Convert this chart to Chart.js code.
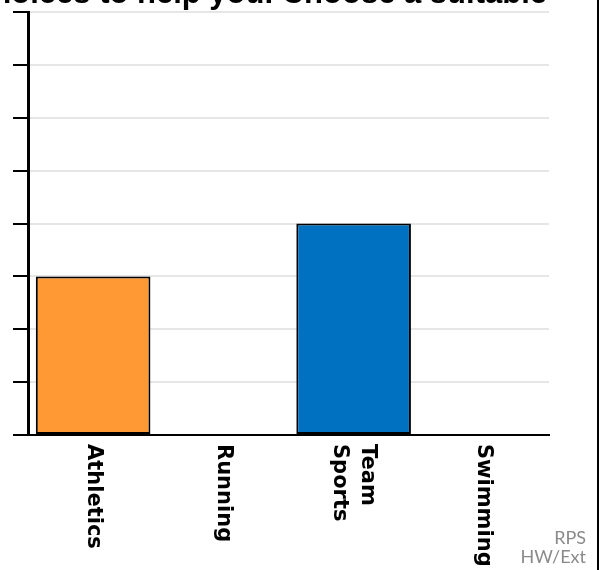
<!DOCTYPE html>
<html>
<head>
<meta charset="utf-8">
<script src="https://cdn.jsdelivr.net/npm/chart.js@4"></script>
<style>
  html, body { margin:0; padding:0; background:#fff; }
  #wrap { position:relative; width:599px; height:570px; overflow:hidden; }
  #chart { position:absolute; left:0; top:0; }
  .title {
    position:absolute; right:52px; top:-23px; white-space:nowrap;
    font: bold 31px "Liberation Sans", Arial, sans-serif; line-height:31px; color:#000;
  }
  .note {
    position:absolute; right:13px; top:528px; text-align:right;
    font: 18px Lato, "Open Sans", sans-serif; line-height:19px; color:#8a8a8a;
  }
  .edge { position:absolute; right:0; top:0; width:2px; height:570px; background:#000; }
</style>
</head>
<body>
<div id="wrap">
  <canvas id="chart" width="599" height="570"></canvas>
  <div class="title">Use the choices to help you. Choose a suitable</div>
  <div class="note">RPS<br>HW/Ext</div>
  <div class="edge"></div>
</div>
<script>
// ===== data =====
const categories = ['Athletics', 'Running', ['Team', 'Sports'], 'Swimming'];
const values     = [3, null, 4, null];          // Running / Swimming left blank
const barColors  = ['#FF9933', '#FF9933', '#0070C0', '#0070C0'];
const yMin = 0, yMax = 8, yStep = 1;

// ===== x labels: rotated clockwise, read top to bottom =====
const rotatedLabels = {
  id: 'rotatedLabels',
  afterDraw(chart) {
    const { ctx, chartArea, scales: { x } } = chart;
    const lh = 28;
    ctx.save();
    ctx.font = 'bold 21px "DejaVu Sans"';
    ctx.fillStyle = '#000';
    ctx.textAlign = 'left';
    ctx.textBaseline = 'middle';
    categories.forEach((lab, i) => {
      const lines = Array.isArray(lab) ? lab : [lab];
      ctx.save();
      ctx.translate(x.getPixelForValue(i), chartArea.bottom + 9);
      ctx.rotate(Math.PI / 2);
      lines.forEach((ln, j) => ctx.fillText(ln, 0, (j - (lines.length - 1) / 2) * lh));
      ctx.restore();
    });
    ctx.restore();
  }
};

new Chart(document.getElementById('chart'), {
  type: 'bar',
  data: {
    labels: categories,
    datasets: [{
      data: values,
      backgroundColor: barColors,
      borderColor: '#000',
      borderWidth: 2,
      borderSkipped: false,
      barPercentage: 0.88,
      categoryPercentage: 1
    }]
  },
  options: {
    responsive: false,
    animation: false,
    layout: { padding: { left: 13, right: 50, top: 12, bottom: 127 } },
    plugins: { legend: { display: false }, tooltip: { enabled: false } },
    scales: {
      x: {
        ticks: { display: false },
        grid: { display: false },
        border: { color: '#000', width: 2 }
      },
      y: {
        min: yMin, max: yMax,
        ticks: { display: false, stepSize: yStep },
        grid: { color: '#e6e6e6', lineWidth: 2, tickColor: '#000', tickWidth: 2, tickLength: 15 },
        border: { color: '#000', width: 3 }
      }
    }
  },
  plugins: [rotatedLabels]
});
</script>
</body>
</html>
